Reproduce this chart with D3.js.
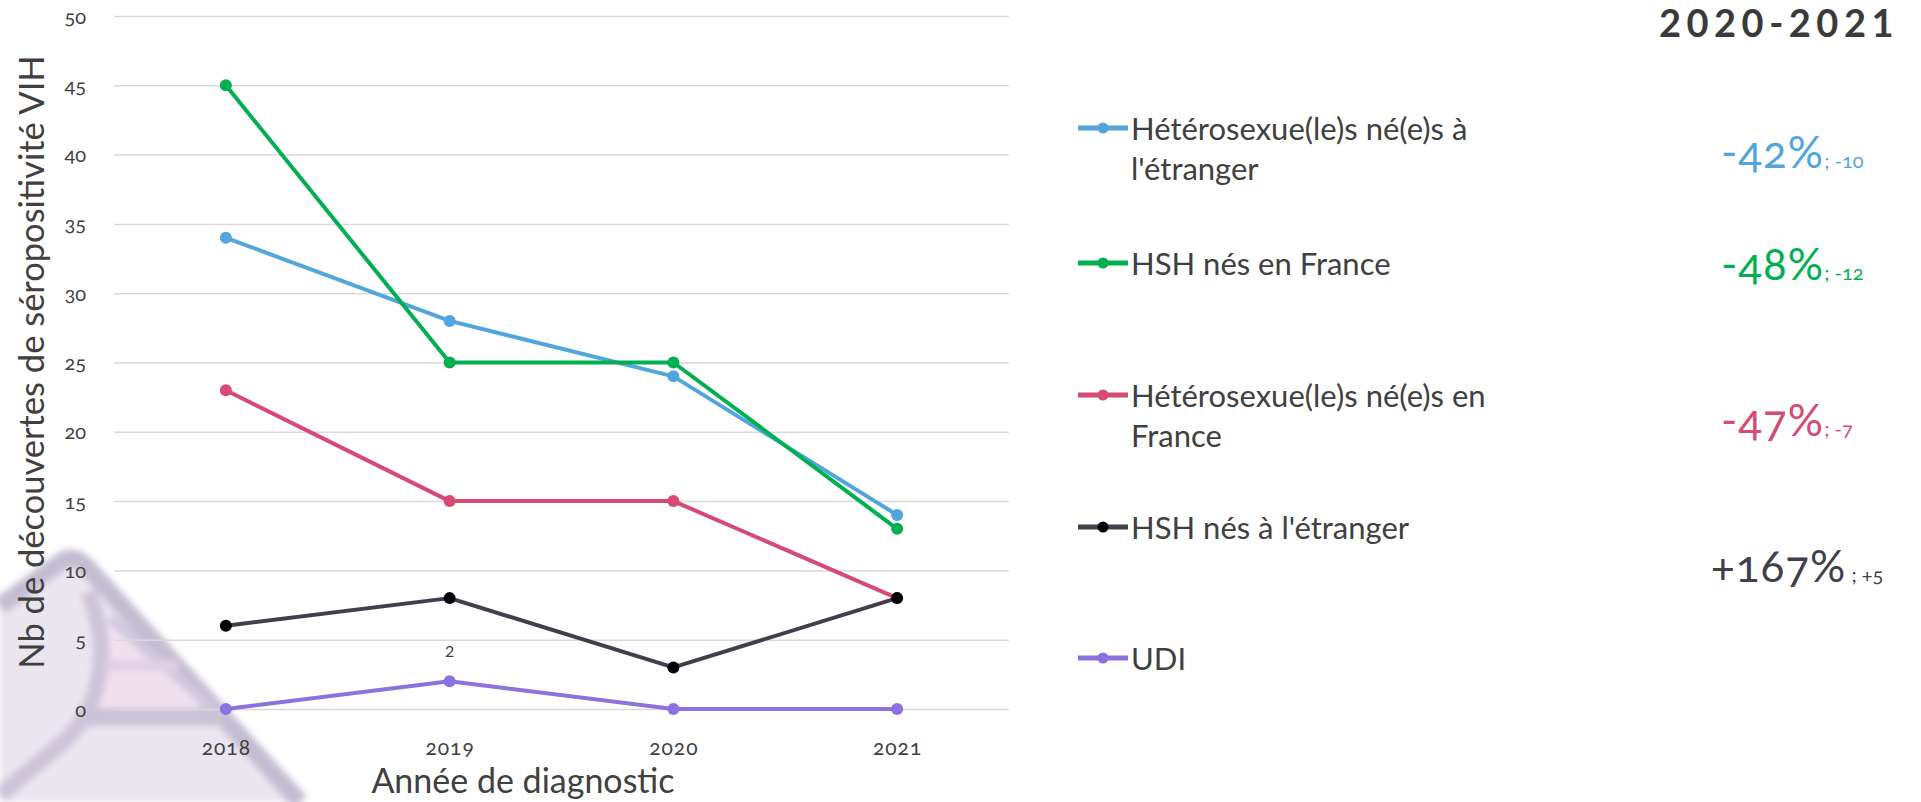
<!DOCTYPE html>
<html>
<head>
<meta charset="utf-8">
<script src="https://cdn.jsdelivr.net/npm/d3@7"></script>
<style>
  body { margin: 0; background: #fff; }
  svg { display: block; font-family: Lato, "Open Sans", sans-serif; }
  .onum { font-variant-numeric: oldstyle-nums; }
</style>
</head>
<body>
<div id="chart"></div>
<script>
// data
var years = [2018, 2019, 2020, 2021];
var yTicks = [0, 5, 10, 15, 20, 25, 30, 35, 40, 45, 50];

var seriesNames = [
  ["Hétérosexue(le)s né(e)s à", "l'étranger"],
  ["HSH nés en France"],
  ["Hétérosexue(le)s né(e)s en", "France"],
  ["HSH nés à l'étranger"],
  ["UDI"]
];
var heteroEtranger = [34, 28, 24, 14];
var hshFrance = [45, 25, 25, 13];
var heteroFrance = [23, 15, 15, 8];
var hshEtranger = [6, 8, 3, 8];
var udi = [0, 2, 0, 0];

var lineColors = ["#52a5dd", "#00b050", "#d64a74", "#403f4c", "#8b72e0"];
var markerColors = ["#52a5dd", "#00b050", "#d64a74", "#000000", "#8b72e0"];

var evolTitle = "2020-2021";
var evolPct = ["-42%", "-48%", "-47%", "+167%"];
var evolAbs = ["; -10", "; -12", "; -7", " ; +5"];

var allSeries = [heteroEtranger, hshFrance, heteroFrance, hshEtranger, udi];

var width = 1921, height = 802;

var svg = d3.select("#chart").append("svg")
    .attr("width", width)
    .attr("height", height);

// faint logo watermark bottom left
var defs = svg.append("defs");
defs.append("filter").attr("id", "blur")
  .append("feGaussianBlur").attr("stdDeviation", 3);

var wm = svg.append("g").attr("filter", "url(#blur)");
wm.append("path")
    .attr("d", "M0,600 L70,556 L305,802 L0,802 Z")
    .attr("fill", "#eae5ef");
wm.append("path")
    .attr("d", "M110,622 L215,712 L92,712 Q104,690 110,622 Z")
    .attr("fill", "#f1e1ef");
wm.append("path")
    .attr("d", "M0,606 L58,564 Q72,552 86,566 L300,802")
    .attr("fill", "none").attr("stroke", "#c4bdd1").attr("stroke-width", 18);
wm.append("path")
    .attr("d", "M88,592 Q108,640 98,680 Q90,720 60,745 L0,795")
    .attr("fill", "none").attr("stroke", "#cdc4d8").attr("stroke-width", 16);
wm.append("path")
    .attr("d", "M110,618 L220,715")
    .attr("fill", "none").attr("stroke", "#d0c8dc").attr("stroke-width", 10);
wm.append("path")
    .attr("d", "M105,666 L178,666")
    .attr("fill", "none").attr("stroke", "#e0d0e4").attr("stroke-width", 12);
wm.append("path")
    .attr("d", "M88,717 L222,717")
    .attr("fill", "none").attr("stroke", "#cbc3d7").attr("stroke-width", 18);

// scales
var x = d3.scalePoint()
    .domain(years)
    .range([114, 1009])
    .padding(0.5);

var y = d3.scaleLinear()
    .domain([0, 50])
    .range([709, 16]);

// y axis with gridlines
var yAxis = svg.append("g")
    .attr("transform", "translate(114,0)")
    .call(d3.axisLeft(y).tickValues(yTicks).tickSize(-(1009 - 114)).tickPadding(28));
yAxis.select(".domain").remove();
yAxis.selectAll(".tick line").attr("stroke", "#d9d9d9").attr("stroke-width", 1.5);
yAxis.selectAll(".tick text")
    .attr("class", "onum")
    .attr("fill", "#404040")
    .style("font-size", "20px")
    .style("font-family", "Lato, sans-serif")
    .attr("dy", "0.35em");

// x axis
var xAxis = svg.append("g")
    .attr("transform", "translate(0,709)")
    .call(d3.axisBottom(x).tickSize(0).tickPadding(31));
xAxis.select(".domain").remove();
xAxis.selectAll(".tick text")
    .attr("class", "onum")
    .attr("fill", "#404040")
    .style("font-size", "21px")
    .style("font-family", "Lato, sans-serif")
    .style("letter-spacing", "1px");

// axis titles
svg.append("text")
    .attr("transform", "translate(30,362) rotate(-90)")
    .attr("text-anchor", "middle")
    .attr("dominant-baseline", "central")
    .attr("fill", "#404040")
    .style("font-size", "34.5px")
    .text("Nb de découvertes de séropositivité VIH");

svg.append("text")
    .attr("x", 523)
    .attr("y", 793)
    .attr("text-anchor", "middle")
    .attr("fill", "#404040")
    .style("font-size", "34px")
    .text("Année de diagnostic");

// lines
var line = d3.line()
    .x(function(d, i) { return x(years[i]); })
    .y(function(d) { return y(d); });

allSeries.forEach(function(values, s) {
  svg.append("path")
      .datum(values)
      .attr("d", line)
      .attr("fill", "none")
      .attr("stroke", lineColors[s])
      .attr("stroke-width", 4)
      .attr("stroke-linejoin", "round");

  svg.selectAll(".dot" + s)
      .data(values)
      .enter()
      .append("circle")
      .attr("class", "dot" + s)
      .attr("cx", function(d, i) { return x(years[i]); })
      .attr("cy", function(d) { return y(d); })
      .attr("r", 6)
      .attr("fill", markerColors[s]);
});

// data label on UDI 2019
svg.append("text")
    .attr("x", x(2019))
    .attr("y", y(udi[1]) - 24)
    .attr("text-anchor", "middle")
    .attr("fill", "#404040")
    .style("font-size", "16px")
    .text(udi[1]);

// legend
var legendY = [128, 263, 395, 527, 658];
var legend = svg.selectAll(".legend")
    .data(seriesNames)
    .enter()
    .append("g")
    .attr("class", "legend")
    .attr("transform", function(d, i) { return "translate(1078," + legendY[i] + ")"; });

legend.append("line")
    .attr("x1", 0).attr("x2", 50)
    .attr("stroke", function(d, i) { return lineColors[i]; })
    .attr("stroke-width", 5);
legend.append("circle")
    .attr("cx", 25).attr("r", 5.5)
    .attr("fill", function(d, i) { return markerColors[i]; });
legend.append("text")
    .attr("x", 53)
    .attr("y", 12)
    .attr("fill", "#404040")
    .style("font-size", "31px")
    .selectAll("tspan")
    .data(function(d) { return d; })
    .enter()
    .append("tspan")
    .attr("x", 53)
    .attr("dy", function(d, i) { return i ? 40 : 0; })
    .text(function(d) { return d; });

// evolution 2020-2021 column
svg.append("text")
    .attr("x", 1899)
    .attr("y", 37)
    .attr("text-anchor", "end")
    .attr("fill", "#3a3a3a")
    .style("font-size", "38px")
    .style("font-weight", "bold")
    .style("letter-spacing", "5.5px")
    .text(evolTitle);

var pctBase = [168, 280, 436, 582];
var pctX = [1721, 1721, 1721, 1711];
evolPct.forEach(function(p, i) {
  var t = svg.append("text")
      .attr("class", "onum")
      .attr("x", pctX[i])
      .attr("y", pctBase[i])
      .attr("fill", lineColors[i]);
  t.append("tspan")
      .style("font-size", "44px")
      .style("letter-spacing", "1px")
      .text(p);
  t.append("tspan")
      .style("font-size", "20px")
      .text(evolAbs[i]);
});
</script>
</body>
</html>
